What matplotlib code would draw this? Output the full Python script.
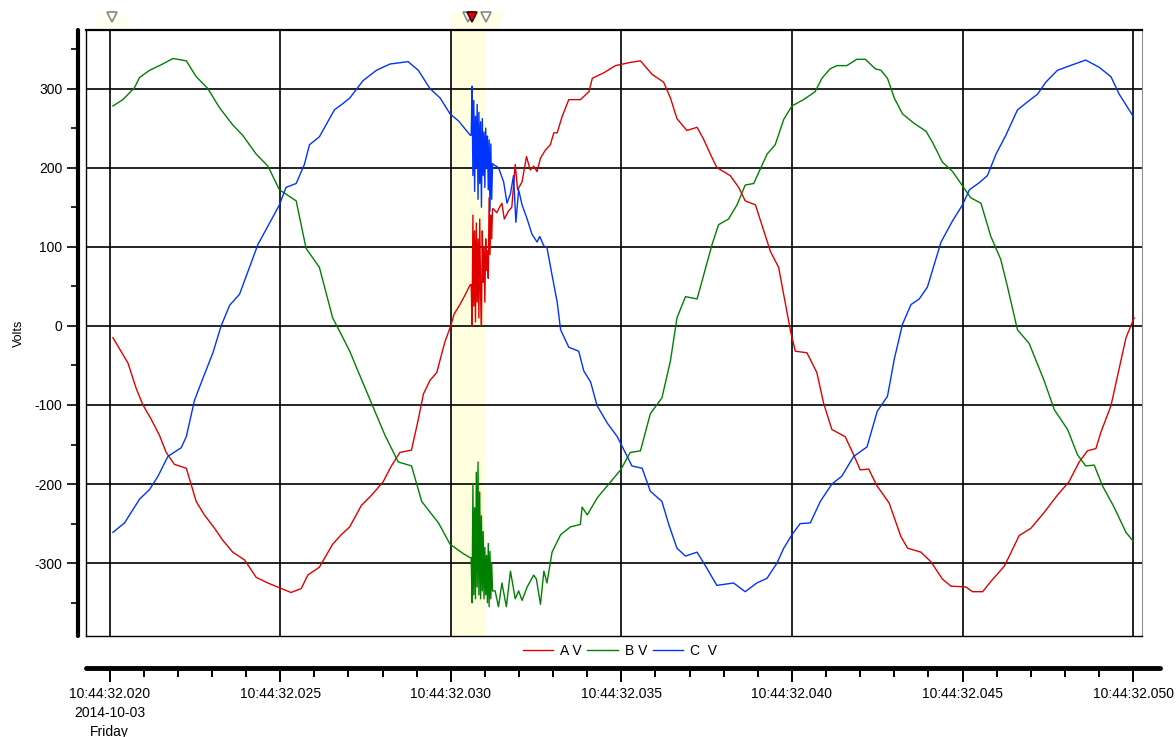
import matplotlib.pyplot as plt
import matplotlib.transforms as mtransforms
from matplotlib.patches import Rectangle

plt.rcParams['font.family'] = ['Liberation Sans', 'DejaVu Sans']

# time in ms after 10:44:32.000, volts
burst_t = [30.600, 30.625, 30.650, 30.675, 30.700, 30.725, 30.750, 30.775, 30.800,
           30.825, 30.850, 30.875, 30.900, 30.925, 30.950, 30.975, 31.000, 31.025,
           31.050, 31.075, 31.100, 31.125, 31.150, 31.175, 31.200, 31.225]

t_a = [20.1, 20.54, 20.78, 20.98, 21.22, 21.46, 21.66, 21.9, 22.25, 22.54, 22.78, 23.08,
       23.32, 23.61, 23.96, 24.3, 24.64, 24.98, 25.32, 25.62, 25.81, 26.15, 26.54, 26.79,
       27.04, 27.38, 27.68, 28.02, 28.26, 28.51, 28.85, 29.05, 29.2, 29.39, 29.59, 29.83,
       30.0, 30.1, 30.27, 30.42, 30.57] + burst_t + [
       31.25, 31.35, 31.43, 31.5, 31.57, 31.69, 31.79, 31.89, 31.96, 32.09, 32.22, 32.33,
       32.43, 32.53, 32.63, 32.77, 32.92, 33.02, 33.12, 33.26, 33.46, 33.8, 34.05, 34.15,
       34.49, 34.83, 35.26, 35.56, 35.9, 36.24, 36.44, 36.63, 36.92, 37.22, 37.41, 37.61,
       37.8, 38.19, 38.44, 38.63, 38.93, 39.17, 39.37, 39.61, 39.76, 39.96, 40.1, 40.44,
       40.73, 40.93, 41.17, 41.56, 41.81, 42.0, 42.25, 42.49, 42.85, 43.19, 43.39, 43.78,
       44.07, 44.41, 44.66, 45.1, 45.29, 45.59, 45.83, 46.22, 46.37, 46.66, 47.0, 47.39,
       47.78, 48.12, 48.42, 48.66, 48.91, 49.05, 49.35, 49.54, 49.79, 50.03]
v_a = [-15, -47, -79, -100, -118, -138, -160, -175, -180, -222, -239, -256,
       -271, -286, -296, -318, -325, -331, -337, -332, -315, -305, -276, -264,
       -254, -227, -214, -197, -177, -160, -157, -118, -86, -69, -59, -20,
       0, 15, 27, 39, 52] + [
       52, 0, 140, 25, 120, 5, 130, 30, 110, 10, 135, 40, 0,
       120, 55, 100, 30, 110, 70, 95, 60, 162, 90, 140, 110, 148] + [
       148, 143, 150, 155, 135, 145, 150, 204, 172, 182, 214, 197,
       202, 195, 212, 222, 229, 244, 244, 264, 286, 286, 296, 313,
       320, 329, 333, 335, 318, 308, 288, 262, 247, 251, 236, 217,
       200, 190, 175, 158, 153, 121, 94, 74, 39, -7, -32, -34,
       -59, -98, -131, -140, -163, -182, -181, -202, -224, -266, -281, -286,
       -298, -320, -329, -330, -336, -336, -323, -304, -291, -265, -256, -236,
       -214, -197, -172, -158, -155, -135, -101, -64, -15, 10]

t_b = [20.1, 20.39, 20.73, 20.88, 21.17, 21.51, 21.86, 22.25, 22.54, 22.88, 23.22, 23.61,
       23.9, 24.3, 24.64, 24.98, 25.47, 25.76, 26.15, 26.54, 26.84, 27.04, 27.28, 27.68,
       28.07, 28.46, 28.85, 29.15, 29.64, 29.98, 30.37, 30.57] + burst_t + [
       31.3, 31.4, 31.5, 31.63, 31.75, 31.89, 31.99, 32.09, 32.24, 32.43, 32.51, 32.63,
       32.73, 32.82, 32.97, 33.22, 33.51, 33.8, 33.85, 34.0, 34.3, 34.59, 34.98, 35.26,
       35.56, 35.85, 36.19, 36.44, 36.63, 36.88, 37.22, 37.41, 37.66, 37.85, 38.14, 38.39,
       38.63, 38.88, 39.27, 39.51, 39.76, 40.0, 40.34, 40.68, 40.88, 41.12, 41.32, 41.61,
       41.9, 42.15, 42.44, 42.61, 42.8, 43.0, 43.24, 43.58, 43.93, 44.12, 44.41, 44.71,
       45.0, 45.24, 45.54, 45.83, 46.12, 46.32, 46.61, 46.95, 47.39, 47.69, 48.08, 48.37,
       48.61, 48.86, 49.1, 49.44, 49.79, 50.0]
v_b = [278, 286, 301, 314, 323, 330, 338, 335, 315, 300, 276, 254,
       241, 217, 202, 172, 158, 98, 74, 10, -15, -32, -57, -98,
       -138, -172, -177, -222, -249, -276, -288, -293] + [
       -293, -350, -200, -340, -230, -345, -185, -330, -172, -340, -210, -345, -240,
       -335, -260, -345, -280, -340, -290, -350, -275, -355, -285, -345, -300, -335] + [
       -335, -355, -325, -355, -310, -345, -335, -347, -330, -315, -320, -352,
       -310, -325, -286, -264, -254, -251, -229, -239, -217, -202, -182, -160,
       -158, -111, -91, -44, 10, 37, 34, 64, 103, 128, 135, 153,
       178, 180, 217, 229, 261, 278, 286, 296, 313, 325, 329, 329,
       337, 337, 325, 323, 313, 288, 268, 256, 246, 232, 207, 195,
       177, 162, 155, 113, 84, 49, -5, -22, -69, -106, -131, -163,
       -177, -176, -202, -229, -261, -272]

t_c = [20.1, 20.44, 20.88, 21.17, 21.42, 21.71, 22.1, 22.25, 22.49, 22.73, 23.03, 23.27,
       23.52, 23.81, 24.1, 24.35, 24.64, 24.98, 25.17, 25.47, 25.71, 25.86, 26.15, 26.59,
       26.84, 27.04, 27.43, 27.82, 28.22, 28.75, 29.05, 29.39, 29.69, 29.98, 30.23,
       30.57] + burst_t + [
       31.25, 31.4, 31.55, 31.65, 31.75, 31.84, 31.91, 31.99, 32.09, 32.24, 32.38, 32.53,
       32.61, 32.73, 32.82, 32.97, 33.12, 33.22, 33.46, 33.75, 33.9, 34.1, 34.29, 34.59,
       34.88, 35.31, 35.61, 35.85, 36.19, 36.39, 36.63, 36.88, 37.22, 37.46, 37.8, 38.29,
       38.63, 38.97, 39.27, 39.56, 39.76, 40.0, 40.24, 40.54, 40.83, 41.17, 41.46, 41.81,
       42.2, 42.5, 42.8, 43.0, 43.24, 43.49, 43.73, 43.97, 44.37, 44.71, 45.0, 45.2,
       45.49, 45.73, 45.98, 46.27, 46.61, 46.9, 47.2, 47.44, 47.78, 48.22, 48.61, 49.0,
       49.35, 49.59, 50.0]
v_c = [-261, -249, -219, -207, -190, -165, -154, -140, -94, -67, -34, 0,
       26, 40, 74, 103, 126, 153, 175, 180, 204, 229, 239, 273,
       281, 288, 310, 323, 331, 334, 323, 300, 288, 268, 259,
       241] + [
       241, 303, 190, 285, 170, 265, 200, 280, 160, 270, 180, 258, 150,
       262, 190, 245, 175, 250, 200, 240, 172, 235, 145, 230, 160, 205] + [
       204, 200, 182, 155, 167, 190, 131, 172, 153, 135, 116, 106,
       113, 101, 99, 64, 30, -5, -27, -32, -57, -71, -101, -123,
       -140, -177, -180, -209, -222, -251, -281, -291, -286, -303, -328, -325,
       -336, -325, -319, -300, -281, -264, -250, -249, -222, -200, -190, -165,
       -153, -108, -89, -42, 2, 27, 34, 49, 106, 133, 153, 172,
       181, 190, 217, 241, 273, 283, 293, 308, 323, 330, 336, 327,
       315, 293, 265]

x_major = [20, 25, 30, 35, 40, 45, 50]
x_minor = [21, 22, 23, 24, 26, 27, 28, 29, 31, 32, 33, 34, 36, 37, 38, 39,
           41, 42, 43, 44, 46, 47, 48, 49]
x_labels = ['10:44:32.020\n2014-10-03\nFriday', '10:44:32.025', '10:44:32.030',
            '10:44:32.035', '10:44:32.040', '10:44:32.045', '10:44:32.050']
y_major = [-300, -200, -100, 0, 100, 200, 300]
y_minor = [-350, -250, -150, -50, 50, 150, 250, 350]
y_labels = ['-300', '-200', '-100', '0', '100', '200', '300']
series_names = ['A V', 'B V', 'C  V']
series_colors = ['#E00000', '#008000', '#0033FF']
event_t = [30.0, 31.0]
marker_gray = [20.08, 30.5, 31.03]
marker_red = [30.62]

W, H = 1176, 737
fig = plt.figure(figsize=(W / 100, H / 100), dpi=100)
ax = fig.add_axes([86 / W, 1 - 636 / H, (1142 - 86) / W, (636 - 30) / H])
x0, x1 = 19.31, 50.26
ax.set_xlim(x0, x1)
ax.set_ylim(-392, 374)

ax.axvspan(event_t[0], event_t[1], color='#FFFFE0', zorder=0, lw=0)

lines = []
for t, v, c, n in zip([t_a, t_b, t_c], [v_a, v_b, v_c], series_colors, series_names):
    ln, = ax.plot(t, v, color=c, lw=1.0, label=n, zorder=3)
    lines.append(ln)

ax.set_xticks(x_major)
ax.tick_params(axis='x', length=0, labelbottom=False)
ax.set_yticks(y_major, y_labels)
ax.set_yticks(y_minor, minor=True)
ax.tick_params(axis='y', which='major', length=8, width=1.2, labelsize=10, pad=3)
ax.tick_params(axis='y', which='minor', length=5, width=1.2)
ax.grid(True, which='major', color='black', lw=1.2, zorder=1)
ax.set_axisbelow(True)

ax.spines['left'].set_position(('outward', 6))
ax.spines['left'].set_linewidth(3)
ax.spines['left'].set_capstyle('round')
ax.spines['top'].set_linewidth(1.6)
ax.spines['right'].set_color('#909090')
ax.spines['bottom'].set_linewidth(1.0)
ax.axvline(x0, color='black', lw=1.0, clip_on=False)
ax.set_ylabel('Volts', fontsize=9, labelpad=7)

# marker strip above the plot
trans = mtransforms.blended_transform_factory(ax.transData, ax.transAxes)
ax.add_patch(Rectangle((30.0, 1.0), 1.5, 0.03, transform=trans, clip_on=False,
                       fc='#FFFFE6', ec='none'))
ax.add_patch(Rectangle((19.6, 1.003), 1.0, 0.025, transform=trans, clip_on=False,
                       fc='#FFFFF2', ec='none'))
ax.plot(marker_gray, [1.0215] * len(marker_gray), ls='none', marker='v', ms=7,
        mfc='white', mec='#888888', mew=1.2, transform=trans, clip_on=False)
ax.plot(marker_red, [1.0215], ls='none', marker='v', ms=7,
        mfc='#EE0000', mec='#400000', mew=1.2, transform=trans, clip_on=False)

# separate time axis below
ax2 = fig.add_axes([86 / W, 1 - 668 / H, (1160 - 86) / W, 0.0001])
ax2.set_xlim(x0, x0 + (1160 - 86) / 34.12)
ax2.set_yticks([])
for s in ['left', 'right', 'top']:
    ax2.spines[s].set_visible(False)
ax2.spines['bottom'].set_linewidth(3.5)
ax2.spines['bottom'].set_capstyle('round')
ax2.set_xticks(x_major, x_labels)
ax2.set_xticks(x_minor, minor=True)
ax2.tick_params(axis='x', which='major', length=10, width=1.4, labelsize=10, pad=4)
ax2.tick_params(axis='x', which='minor', length=6.5, width=1.4)
plt.setp(ax2.get_xticklabels(), linespacing=1.45)

fig.legend(lines, series_names, loc='center', bbox_to_anchor=(620 / W, 1 - 651 / H),
           ncol=3, frameon=False, fontsize=10, handlelength=2.2,
           handletextpad=0.5, columnspacing=0.4)

fig.savefig('out.png', dpi=100)
